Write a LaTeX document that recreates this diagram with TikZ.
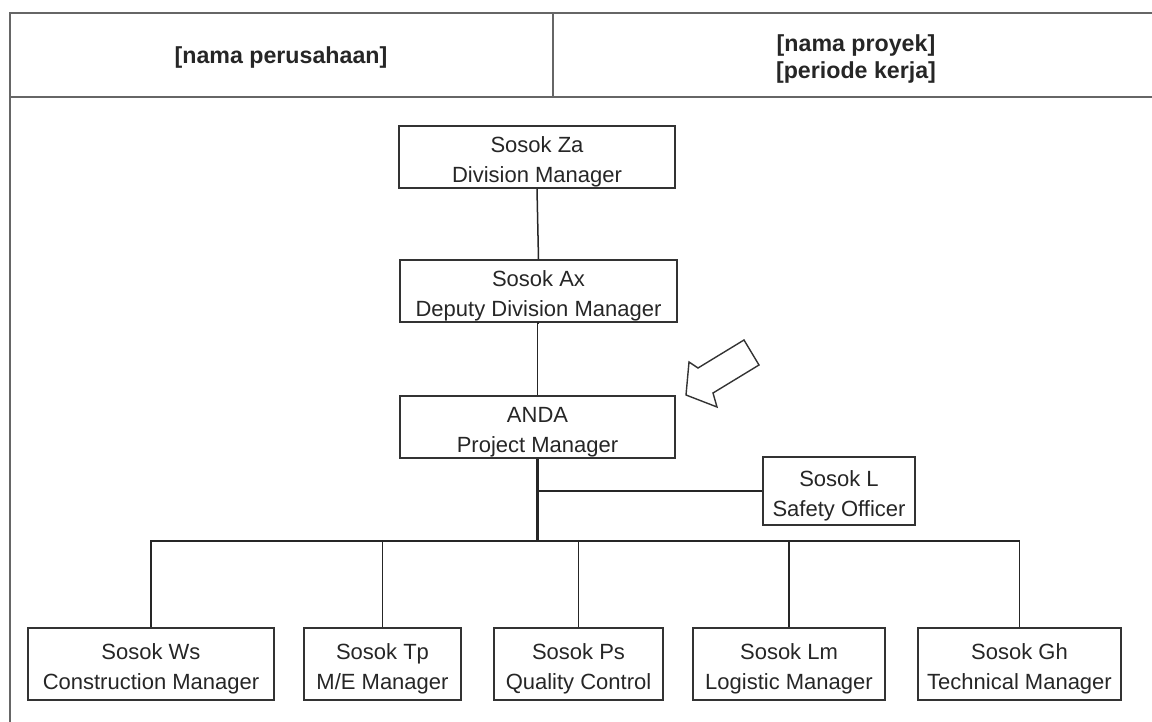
\documentclass[tikz,border=0pt]{standalone}
\usepackage{fontspec}
\setmainfont{Liberation Sans}
\newcommand{\twolines}[2]{\rule{0pt}{13pt}#1\\#2}
\begin{document}
\begin{tikzpicture}[x=0.5pt,y=-0.5pt,
  frame/.style={draw=black!60, line width=1pt},
  box/.style={draw=black!80, line width=0.8pt, rectangle, inner sep=0pt, align=center,
     font=\fontsize{11}{15}\selectfont, text=black!85},
  link/.style={draw=black!85, line width=0.75pt},
  head/.style={font=\bfseries\fontsize{11.6}{13.5}\selectfont, align=center, text=black!85}]
\useasboundingbox (0,0) rectangle (1152,722);
% frame
\draw[frame] (1152,13) -- (10,13) -- (10,722);
\draw[frame] (10,97) -- (1152,97);
\draw[frame] (553,13) -- (553,97);
\node[head] (comp) at (281,58) {[nama perusahaan]};
\node[head] (proj) at (856,59) {{[nama proyek]}\\{}{[periode kerja]}};
% boxes
\node[box, minimum width=138pt, minimum height=31pt] (za) at (537,157) {\twolines{Sosok Za}{Division Manager}};
\node[box, minimum width=138.5pt, minimum height=31pt] (ax) at (538.5,291) {\twolines{Sosok Ax}{Deputy Division Manager}};
\node[box, minimum width=137.5pt, minimum height=31pt] (pm) at (537.5,427) {\twolines{ANDA}{Project Manager}};
\node[box, minimum width=76pt, minimum height=34pt] (so) at (839,491) {\twolines{Sosok L}{Safety Officer}};
\node[box, minimum width=123pt, minimum height=36pt] (b1) at (151,664) {\twolines{Sosok Ws}{Construction Manager}};
\node[box, minimum width=78.5pt, minimum height=36pt] (b2) at (382.5,664) {\twolines{Sosok Tp}{M/E Manager}};
\node[box, minimum width=84.5pt, minimum height=36pt] (b3) at (578.5,664) {\twolines{Sosok Ps}{Quality Control}};
\node[box, minimum width=96pt, minimum height=36pt] (b4) at (789,664) {\twolines{Sosok Lm}{Logistic Manager}};
\node[box, minimum width=101.5pt, minimum height=36pt] (b5) at (1019.5,664) {\twolines{Sosok Gh}{Technical Manager}};
% connectors
\coordinate (bus) at (538,541);
\draw[link] (za.south) -- (ax.north);
\draw[link] (ax.south) -- (pm.south |- ax.south) -- (pm.north);
\draw[link, line width=1.1pt] (pm.south) -- (pm.south |- bus);
\draw[link] (pm.south |- so.west) -- (so.west);
\draw[link] (pm.south |- bus) -| (b1.north);
\draw[link] (pm.south |- bus) -| (b2.north);
\draw[link] (pm.south |- bus) -| (b3.north);
\draw[link] (pm.south |- bus) -| (b4.north);
\draw[link] (pm.south |- bus) -| (b5.north);
% hollow arrow
\draw[draw=black!80, line width=0.7pt, line join=miter]
  (686,395) -- (689,362) -- (698,368) -- (744,340) -- (759,365) -- (713,393) -- (717,407) -- cycle;
\end{tikzpicture}
\end{document}
